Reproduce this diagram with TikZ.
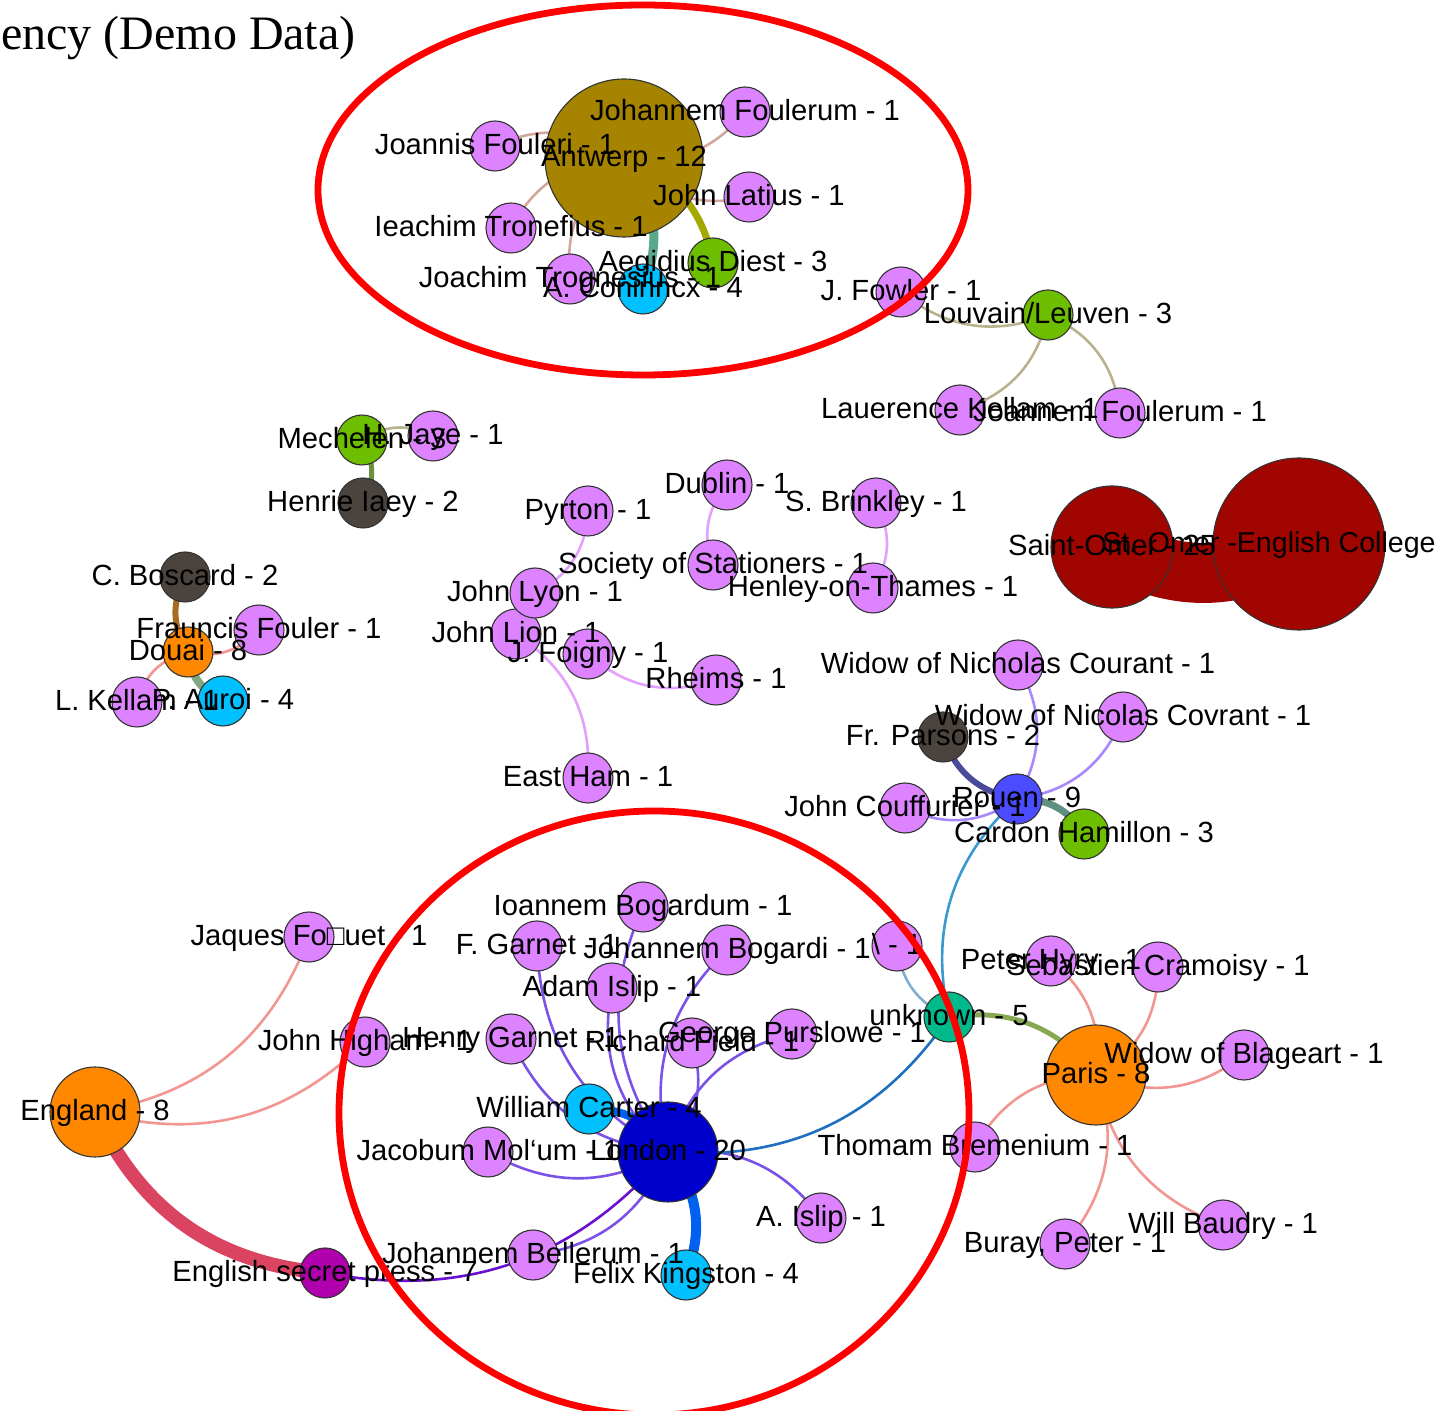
\documentclass[tikz,border=0pt]{standalone}
\usepackage{fontspec}
\setmainfont{Liberation Sans}
\newfontfamily\ttlfont{Liberation Serif}
\usetikzlibrary{backgrounds}
\definecolor{cpink}{HTML}{DD83FF}
\definecolor{cgreen}{HTML}{6EBE00}
\definecolor{ccyan}{HTML}{00C0FF}
\definecolor{corange}{HTML}{FF8800}
\definecolor{cdark}{HTML}{4B443E}
\definecolor{cdred}{HTML}{A00500}
\definecolor{cant}{HTML}{A68400}
\definecolor{clon}{HTML}{0000CC}
\definecolor{crou}{HTML}{4B4BFF}
\definecolor{cteal}{HTML}{00BA8C}
\definecolor{cpress}{HTML}{B000AE}
\tikzset{
  nd/.style={circle,draw=black!80,line width=0.55pt,inner sep=0pt,minimum size=#1},
  nd/.default=25pt,
  pn/.style={nd,fill=cpink},
  lbl/.style={anchor=base,inner sep=0pt,yshift=-4.4pt,font=\fontsize{14.6}{16}\selectfont,text=black},
  ed/.style={line width=1.3pt},
  cl/.style={bend left=30},
  cr/.style={bend right=30},
  edant/.style={ed,draw={rgb,255:red,212;green,167;blue,156}},
  edtan/.style={ed,draw={rgb,255:red,184;green,178;blue,142}},
  edlon/.style={ed,draw={rgb,255:red,123;green,82;blue,232}},
  edpar/.style={ed,draw={rgb,255:red,242;green,150;blue,145}},
  edpink/.style={ed,draw={rgb,255:red,226;green,160;blue,255}},
  edrou/.style={ed,draw={rgb,255:red,168;green,136;blue,255}},
  ring/.style={draw=red,line width=3.4pt}
}
\newcommand\lb[2]{\node[lbl] (#1-l) at (#1) {#2};}
\begin{document}
\begin{tikzpicture}[x=0.5pt,y=-0.5pt]
\useasboundingbox (0,0) rectangle (1448,1411);
% title
\node[anchor=base east,inner sep=0pt,font=\ttlfont\fontsize{24}{26}\selectfont] (title) at (356,50) {ency (Demo Data)};
% nodes
\node[nd=79pt,fill=cant] (ant) at (624,158) {};
\node[pn] (jfou) at (495,146) {};
\node[pn] (jofo) at (745,112) {};
\node[pn] (jlat) at (749,197) {};
\node[pn] (ieac) at (511,228) {};
\node[pn] (jtro) at (570,279) {};
\node[nd,fill=ccyan] (acon) at (643,289) {};
\node[nd,fill=cgreen] (aegi) at (713,263) {};
\node[pn] (jfow) at (901,292) {};
\node[nd,fill=cgreen] (louv) at (1048,315) {};
\node[pn] (lkel) at (960,410) {};
\node[pn] (joan) at (1120,413) {};
\node[nd,fill=cgreen] (mech) at (362,440) {};
\node[pn] (hjay) at (433,436) {};
\node[nd,fill=cdark] (hiae) at (363,503) {};
\node[pn] (pyrt) at (588,511) {};
\node[pn] (dubl) at (727,485) {};
\node[pn] (brin) at (876,503) {};
\node[pn] (soci) at (713,565) {};
\node[pn] (henl) at (873,588) {};
\node[pn] (lion) at (516,634) {};
\node[pn] (lyon) at (535,593) {};
\node[pn] (foig) at (588,654) {};
\node[pn] (rhei) at (716,680) {};
\node[pn] (east) at (588,778) {};
\node[pn] (wnic) at (1018,665) {};
\node[pn] (wcov) at (1123,717) {};
\node[nd,fill=cdark] (pars) at (943,737) {};
\node[nd,fill=crou] (roue) at (1017,799) {};
\node[pn] (couf) at (905,808) {};
\node[nd,fill=cgreen] (hami) at (1084,834) {};
\node[nd,fill=cdark] (bosc) at (185,577) {};
\node[pn] (frau) at (259,630) {};
\node[nd,fill=corange] (doua) at (188,652) {};
\node[pn] (lkll) at (137,702) {};
\node[nd,fill=ccyan] (auro) at (223,701) {};
\node[nd=61pt,fill=cdred] (somr) at (1112,547) {};
\node[nd=86pt,fill=cdred] (stom) at (1299,544) {};
\node[pn] (ibog) at (643,907) {};
\node[pn] (fgar) at (537,946) {};
\node[pn] (jbog) at (727,950) {};
\node[pn] (aisl) at (612,988) {};
\node[pn] (bksl) at (897,946) {};
\node[pn] (phyr) at (1051,961) {};
\node[pn] (scra) at (1158,967) {};
\node[nd,fill=cteal] (unkn) at (949,1017) {};
\node[pn] (jaqu) at (309,937) {};
\node[pn] (jhig) at (365,1042) {};
\node[pn] (hgar) at (511,1039) {};
\node[pn] (rfie) at (692,1043) {};
\node[pn] (gpur) at (792,1034) {};
\node[nd=50pt,fill=corange] (pari) at (1096,1075) {};
\node[pn] (wbla) at (1244,1055) {};
\node[nd=45pt,fill=corange] (engl) at (95,1112) {};
\node[nd,fill=ccyan] (wcar) at (589,1109) {};
\node[nd=50pt,fill=clon] (lond) at (668,1152) {};
\node[pn] (jmol) at (488,1152) {};
\node[pn] (tbre) at (975,1147) {};
\node[pn] (aist) at (821,1218) {};
\node[pn] (jbel) at (533,1255) {};
\node[nd,fill=ccyan] (fkin) at (686,1275) {};
\node[nd,fill=cpress] (secr) at (325,1273) {};
\node[pn] (bura) at (1065,1244) {};
\node[pn] (wbau) at (1223,1225) {};
% connectors
\begin{pgfonlayer}{background}
\draw[edant] (ant.center) to[cr] (jfou.center);
\draw[edant] (ant.center) to[cr] (jofo.center);
\draw[edant] (ant.center) to[cr] (jlat.center);
\draw[edant] (ant.center) to[cr] (ieac.center);
\draw[edant] (ant.center) to[cr] (jtro.center);
\draw[line width=4.5pt,draw={rgb,255:red,90;green,168;blue,138}] (ant.center) to[cl] (acon.center);
\draw[line width=3.5pt,draw={rgb,255:red,165;green,168;blue,0}] (ant.center) to[cl] (aegi.center);
\draw[edtan] (jfow.center) to[cr] (louv.center);
\draw[edtan] (louv.center) to[cl] (lkel.center);
\draw[edtan] (louv.center) to[cl] (joan.center);
\draw[edtan] (mech.center) to[cl] (hjay.center);
\draw[line width=2.5pt,draw={rgb,255:red,108;green,143;blue,64}] (mech.center) to[cl] (hiae.center);
\draw[line width=3pt,draw={rgb,255:red,168;green,108;blue,32}] (doua.center) to[cl] (bosc.center);
\draw[edpar] (doua.center) to[cr] (frau.center);
\draw[edpar] (doua.center) to[cr] (lkll.center);
\draw[line width=4pt,draw={rgb,255:red,128;green,168;blue,128}] (doua.center) to[cr] (auro.center);
\draw[edpink] (pyrt.center) to[cl] (lyon.center);
\draw[edpink] (dubl.center) to[cr] (soci.center);
\draw[edpink] (brin.center) to[cl] (henl.center);
\draw[edpink] (lion.center) to[cl] (east.center);
\draw[edpink] (foig.center) to[cr] (rhei.center);
\draw[edrou] (roue.center) to[cr] (wnic.center);
\draw[edrou] (roue.center) to[cr] (wcov.center);
\draw[edrou] (roue.center) to[cl] (couf.center);
\draw[line width=3pt,draw={rgb,255:red,74;green,74;blue,154}] (roue.center) to[cl] (pars.center);
\draw[line width=3.5pt,draw={rgb,255:red,95;green,143;blue,128}] (roue.center) to[cl] (hami.center);
\draw[line width=30pt,draw=cdred] (somr.center) to[cr] (stom.center);
\draw[edlon] (fgar.center) to[cr] (lond.center);
\draw[edlon] (ibog.center) to[cr] (lond.center);
\draw[edlon] (aisl.center) to[cr] (lond.center);
\draw[edlon] (jbog.center) to[cr] (lond.center);
\draw[edlon] (hgar.center) to[cr] (lond.center);
\draw[edlon] (rfie.center) to[cl] (lond.center);
\draw[edlon] (gpur.center) to[cr] (lond.center);
\draw[edlon] (jmol.center) to[cr] (lond.center);
\draw[edlon] (lond.center) to[cl] (aist.center);
\draw[edlon] (jbel.center) to[cr] (lond.center);
\draw[ed,draw={rgb,255:red,106;green,16;blue,208}] (secr.center) to[cr] (lond.center);
\draw[line width=4pt,draw={rgb,255:red,0;green,96;blue,240}] (wcar.center) to[cl] (lond.center);
\draw[line width=5pt,draw={rgb,255:red,0;green,96;blue,240}] (lond.center) to[cl] (fkin.center);
\draw[ed,draw={rgb,255:red,31;green,111;blue,192}] (lond.center) to[cr] (unkn.center);
\draw[ed,draw={rgb,255:red,58;green,154;blue,208}] (roue.center) to[cr] (unkn.center);
\draw[ed,draw={rgb,255:red,127;green,176;blue,208}] (bksl.center) to[cr] (unkn.center);
\draw[line width=2.5pt,draw={rgb,255:red,134;green,168;blue,80}] (unkn.center) to[cl] (pari.center);
\draw[edpar] (pari.center) to[cr] (phyr.center);
\draw[edpar] (pari.center) to[cr] (scra.center);
\draw[edpar] (pari.center) to[cr] (wbla.center);
\draw[edpar] (pari.center) to[cr] (tbre.center);
\draw[edpar] (pari.center) to[cl] (bura.center);
\draw[edpar] (pari.center) to[cr] (wbau.center);
\draw[edpar] (engl.center) to[cr] (jaqu.center);
\draw[edpar] (engl.center) to[cr] (jhig.center);
\draw[line width=7pt,draw={rgb,255:red,218;green,68;blue,96}] (engl.center) to[cr] (secr.center);
\end{pgfonlayer}
% labels
\lb{ant}{Antwerp - 12}
\lb{jfou}{Joannis Fouleri - 1}
\lb{jofo}{Johannem Foulerum - 1}
\lb{jlat}{John Latius - 1}
\lb{ieac}{Ieachim Tronefius - 1}
\lb{jtro}{Joachim Trognesius - 1}
\lb{acon}{A. Coninncx - 4}
\lb{aegi}{Aegidius Diest - 3}
\lb{jfow}{J. Fowler - 1}
\lb{louv}{Louvain/Leuven - 3}
\lb{lkel}{Lauerence Kellam - 1}
\lb{joan}{Joannem Foulerum - 1}
\lb{mech}{Mechelen - 3}
\lb{hjay}{H. Jaye - 1}
\lb{hiae}{Henrie Iaey - 2}
\lb{pyrt}{Pyrton - 1}
\lb{dubl}{Dublin - 1}
\lb{brin}{S. Brinkley - 1}
\lb{soci}{Society of Stationers - 1}
\lb{henl}{Henley-on-Thames - 1}
\lb{lyon}{John Lyon - 1}
\lb{lion}{John Lion - 1}
\lb{foig}{J. Foigny - 1}
\lb{rhei}{Rheims - 1}
\lb{east}{East Ham - 1}
\lb{wnic}{Widow of Nicholas Courant - 1}
\lb{wcov}{Widow of Nicolas Covrant - 1}
\lb{pars}{Fr. Parsons - 2}
\lb{roue}{Rouen - 9}
\lb{couf}{John Couffurier - 1}
\lb{hami}{Cardon Hamillon - 3}
\lb{bosc}{C. Boscard - 2}
\lb{frau}{Frauncis Fouler - 1}
\lb{doua}{Douai - 8}
\lb{lkll}{L. Kellam - 1}
\lb{auro}{P. Auroi - 4}
\lb{somr}{Saint-Omer - 25}
\node[lbl,xshift=-15pt,font=\fontsize{14.3}{16}\selectfont] (stom-l) at (stom) {St. Omer -English College};
\lb{ibog}{Ioannem Bogardum - 1}
\lb{fgar}{F. Garnet - 1}
\lb{jbog}{Johannem Bogardi - 1}
\lb{aisl}{Adam Islip - 1}
\lb{bksl}{\textbackslash{} - 1}
\lb{phyr}{Peter Hyry - 1}
\lb{scra}{Sebastien Cramoisy - 1}
\lb{unkn}{unknown - 5}
\lb{jaqu}{Jaques Fo□uet - 1}
\lb{jhig}{John Higham - 1}
\lb{hgar}{Henry Garnet - 1}
\lb{rfie}{Richard Field - 1}
\lb{gpur}{George Purslowe - 1}
\lb{pari}{Paris - 8}
\lb{wbla}{Widow of Blageart - 1}
\lb{engl}{England - 8}
\lb{wcar}{William Carter - 4}
\lb{lond}{London - 20}
\lb{jmol}{Jacobum Mol‘um - 1}
\lb{tbre}{Thomam Bremenium - 1}
\lb{aist}{A. Islip - 1}
\lb{jbel}{Johannem Bellerum - 1}
\lb{fkin}{Felix Kingston - 4}
\lb{secr}{English secret press - 7}
\lb{bura}{Buray, Peter - 1}
\lb{wbau}{Will Baudry - 1}
% highlight rings
\draw[ring] (643,190) ellipse [x radius=325,y radius=185];
\draw[ring] (654,1113) ellipse [x radius=315,y radius=302];
\end{tikzpicture}
\end{document}
